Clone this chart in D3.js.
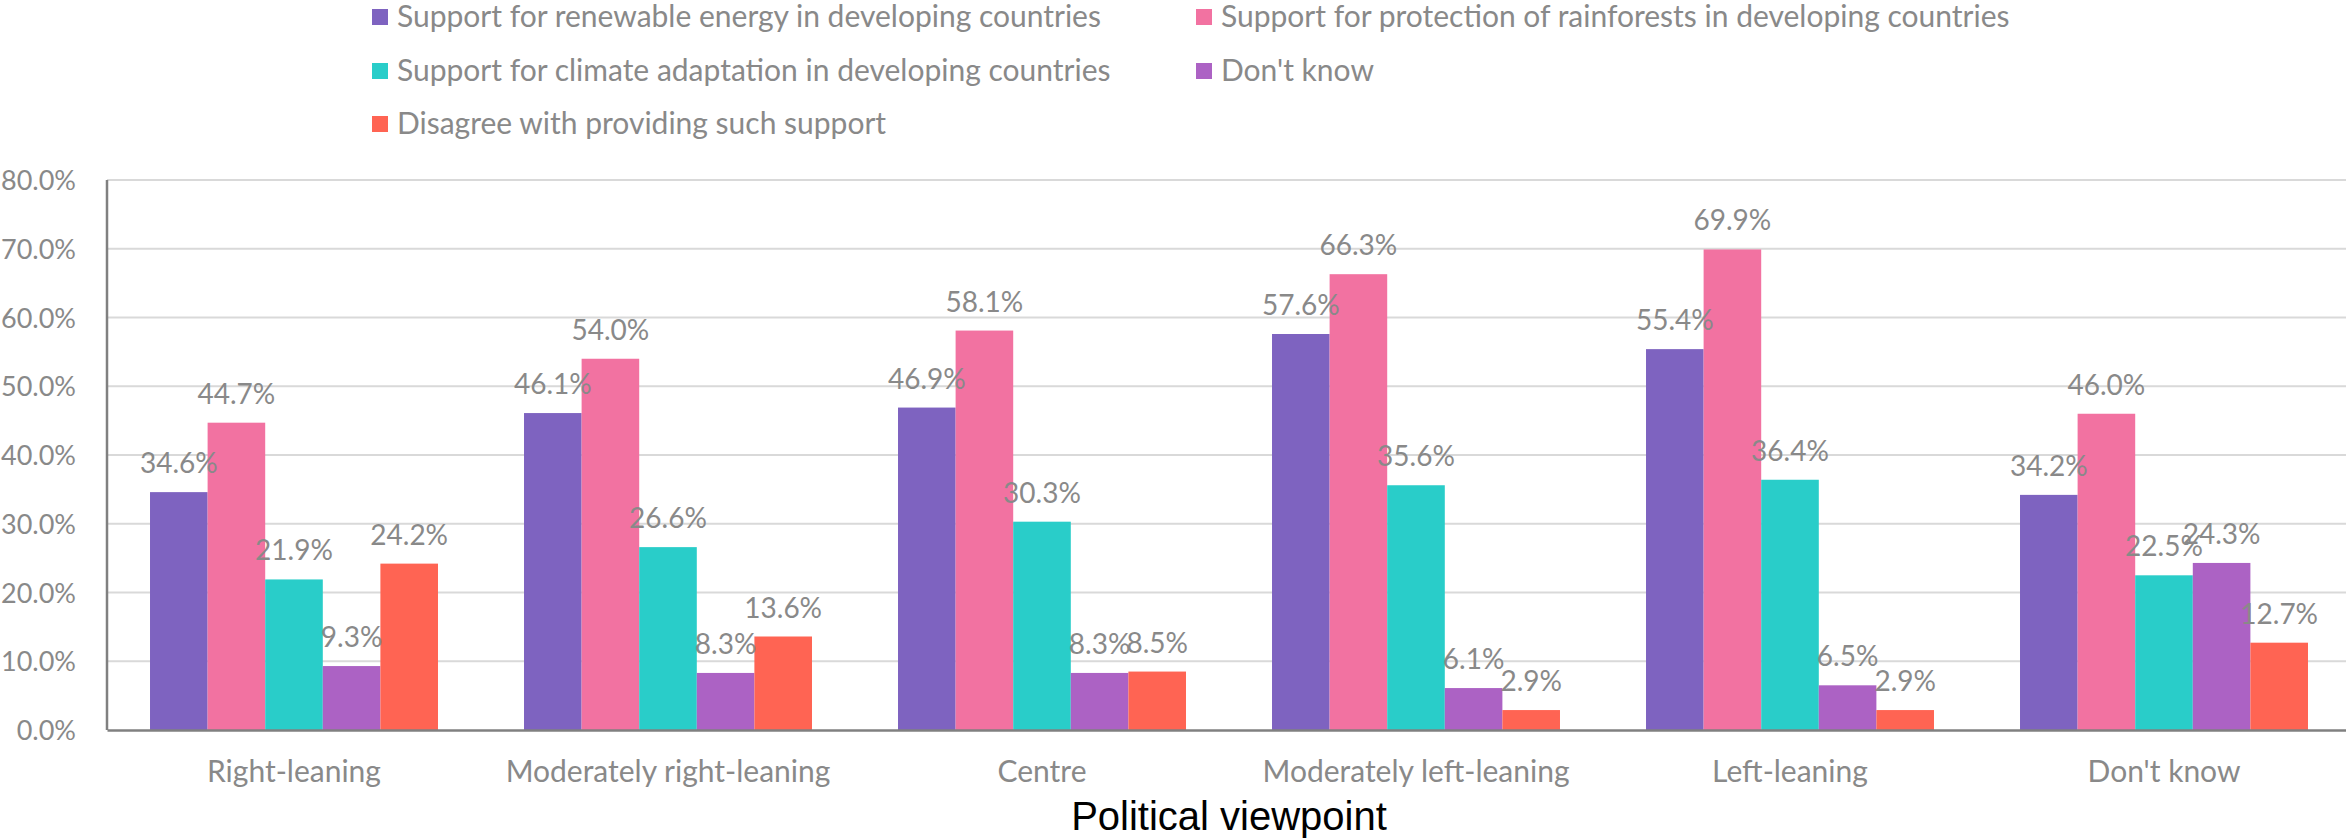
<!DOCTYPE html>
<html>
<head>
<meta charset="utf-8">
<script src="https://cdn.jsdelivr.net/npm/d3@7"></script>
<style>
  html, body { margin: 0; padding: 0; background: #ffffff; }
  svg { display: block; }
</style>
</head>
<body>
<svg id="chart" width="2346" height="839"></svg>
<script>
'use strict';

// data
var categories = ["Right-leaning", "Moderately right-leaning", "Centre", "Moderately left-leaning", "Left-leaning", "Don't know"];
var seriesNames = [
  "Support for renewable energy in developing countries",
  "Support for protection of rainforests in developing countries",
  "Support for climate adaptation in developing countries",
  "Don't know",
  "Disagree with providing such support"
];
var renewable  = [34.6, 46.1, 46.9, 57.6, 55.4, 34.2];
var rainforest = [44.7, 54.0, 58.1, 66.3, 69.9, 46.0];
var adaptation = [21.9, 26.6, 30.3, 35.6, 36.4, 22.5];
var dontKnow   = [9.3, 8.3, 8.3, 6.1, 6.5, 24.3];
var disagree   = [24.2, 13.6, 8.5, 2.9, 2.9, 12.7];
var yTicks = [0, 10, 20, 30, 40, 50, 60, 70, 80];
var colors = ["#7e63c0", "#f272a1", "#29cdc9", "#ac62c4", "#ff6453"];

var seriesValues = [renewable, rainforest, adaptation, dontKnow, disagree];

var svg = d3.select("#chart");
var textGrey = "#898989";
var labelFont = "Lato, 'Open Sans', sans-serif";

var plotLeft = 107, plotRight = 2351, plotTop = 180, plotBottom = 730;

var x = d3.scaleBand()
    .domain(categories)
    .range([plotLeft, plotRight])
    .paddingInner(0)
    .paddingOuter(0);

var groupWidth = x.bandwidth() * 0.77;
var xs = d3.scaleBand()
    .domain(d3.range(seriesNames.length))
    .range([0, groupWidth]);

var y = d3.scaleLinear()
    .domain([0, 80])
    .range([plotBottom, plotTop]);

// gridlines
svg.append("g")
  .selectAll("line")
  .data(yTicks.slice(1))
  .join("line")
    .attr("x1", plotLeft)
    .attr("x2", plotRight)
    .attr("y1", d => y(d))
    .attr("y2", d => y(d))
    .attr("stroke", "#d9d9d9")
    .attr("stroke-width", 2);

// y axis tick labels
var yAxis = d3.axisLeft(y)
    .tickValues(yTicks)
    .tickSize(0)
    .tickPadding(31)
    .tickFormat(d => d3.format(".1f")(d) + "%");

var gy = svg.append("g")
    .attr("transform", `translate(${plotLeft},0)`)
    .call(yAxis);
gy.select(".domain").remove();
gy.selectAll("text")
    .attr("fill", textGrey)
    .attr("font-family", labelFont)
    .attr("font-size", 27)
    .attr("dy", "0.36em");

// bars
var rows = [];
categories.forEach(function(c, i) {
  seriesValues.forEach(function(vals, s) {
    rows.push({ cat: c, s: s, v: vals[i] });
  });
});

var offset = (x.bandwidth() - groupWidth) / 2;

svg.append("g")
  .selectAll("rect")
  .data(rows)
  .join("rect")
    .attr("x", d => x(d.cat) + offset + xs(d.s))
    .attr("y", d => y(d.v))
    .attr("width", xs.bandwidth())
    .attr("height", d => y(0) - y(d.v))
    .attr("fill", d => colors[d.s]);

// data labels
svg.append("g")
  .selectAll("text")
  .data(rows)
  .join("text")
    .attr("x", d => x(d.cat) + offset + xs(d.s) + xs.bandwidth() / 2)
    .attr("y", d => y(d.v) - 19)
    .attr("text-anchor", "middle")
    .attr("fill", textGrey)
    .attr("font-family", labelFont)
    .attr("font-size", 28)
    .text(d => d3.format(".1f")(d.v) + "%");

// axis lines
svg.append("line")
    .attr("x1", plotLeft).attr("x2", plotLeft)
    .attr("y1", plotTop).attr("y2", plotBottom)
    .attr("stroke", "#808080").attr("stroke-width", 2.5);

var xAxis = d3.axisBottom(x).tickSize(0).tickPadding(31);
var gx = svg.append("g")
    .attr("transform", `translate(0,${plotBottom})`)
    .call(xAxis);
gx.select(".domain")
    .attr("stroke", "#808080")
    .attr("stroke-width", 2.5);
gx.selectAll("text")
    .attr("fill", textGrey)
    .attr("font-family", labelFont)
    .attr("font-size", 30);

// x axis title
svg.append("text")
    .attr("x", (plotLeft + plotRight) / 2)
    .attr("y", 830)
    .attr("text-anchor", "middle")
    .attr("fill", "#000000")
    .attr("font-family", "'Liberation Sans', Arial, sans-serif")
    .attr("font-size", 40)
    .text("Political viewpoint");

// legend
var legendPos = [
  { x: 372, y: 9 },
  { x: 1196, y: 9 },
  { x: 372, y: 63 },
  { x: 1196, y: 63 },
  { x: 372, y: 116 }
];

var legend = svg.append("g")
  .selectAll("g")
  .data(seriesNames)
  .join("g")
    .attr("transform", (d, i) => `translate(${legendPos[i].x},${legendPos[i].y})`);

legend.append("rect")
    .attr("width", 16)
    .attr("height", 16)
    .attr("fill", (d, i) => colors[i]);

legend.append("text")
    .attr("x", 25)
    .attr("y", 18)
    .attr("fill", textGrey)
    .attr("font-family", labelFont)
    .attr("font-size", 30)
    .text(d => d);
</script>
</body>
</html>
